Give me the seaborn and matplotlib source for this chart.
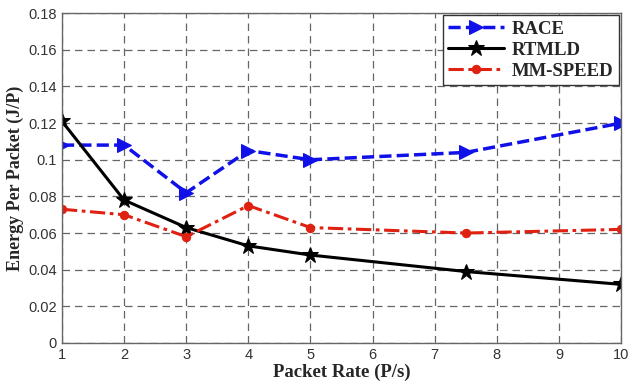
import numpy as np
import pandas as pd
import matplotlib
matplotlib.use("Agg")
import matplotlib.pyplot as plt
import seaborn as sns

packet_rate = [1, 2, 3, 4, 5, 7.5, 10]
race = [0.108, 0.108, 0.082, 0.105, 0.100, 0.104, 0.120]
rtmld = [0.121, 0.078, 0.063, 0.053, 0.048, 0.039, 0.032]
mm_speed = [0.073, 0.070, 0.058, 0.075, 0.063, 0.060, 0.062]
x_ticks = [1, 2, 3, 4, 5, 6, 7, 8, 9, 10]
y_ticks = [0, 0.02, 0.04, 0.06, 0.08, 0.1, 0.12, 0.14, 0.16, 0.18]
y_labels = ["0", "0.02", "0.04", "0.06", "0.08", "0.1", "0.12", "0.14", "0.16", "0.18"]

sns.set_style("white")
plt.rcParams['font.family'] = ['Liberation Sans', 'DejaVu Sans']

fig = plt.figure(figsize=(6.28, 3.87), dpi=100)
ax = fig.add_axes([0.0987, 0.1137, 0.8903, 0.8523])

df_race = pd.DataFrame({"x": packet_rate, "y": race})
df_rtmld = pd.DataFrame({"x": packet_rate, "y": rtmld})
df_mm = pd.DataFrame({"x": packet_rate, "y": mm_speed})

sns.lineplot(data=df_race, x="x", y="y", ax=ax, color="#1010e8", linestyle=(0, (3.5, 1.5)),
             linewidth=2.5, marker=">", markersize=10, markeredgecolor="#1010e8", label="RACE")
sns.lineplot(data=df_rtmld, x="x", y="y", ax=ax, color="black", linestyle="-",
             linewidth=2.2, marker="*", markersize=12, markeredgecolor="black", label="RTMLD")
sns.lineplot(data=df_mm, x="x", y="y", ax=ax, color="#e02010", linestyle=(0, (5, 1.5, 1.2, 1.5)),
             linewidth=2.2, marker="o", markersize=6, markeredgecolor="#e02010", label="MM-SPEED")

ax.set_xlim(1, 10)
ax.set_ylim(0, 0.18)
ax.set_xticks(x_ticks)
ax.set_yticks(y_ticks)
ax.set_yticklabels(y_labels)
ax.tick_params(direction="in", length=4, labelsize=10.5, colors="#444444", labelcolor="#333333")
ax.grid(True, color="#666666", linestyle=(0, (6, 4)), linewidth=0.9)
for s in ax.spines.values():
    s.set_color("#666666")
    s.set_linewidth(1.0)

ax.set_xlabel("Packet Rate (P/s)", fontfamily="Liberation Serif", fontweight="bold", fontsize=13.5, labelpad=1)
ax.set_ylabel("Energy Per Packet (J/P)", fontfamily="Liberation Serif", fontweight="bold", fontsize=13, labelpad=3)

leg = ax.legend(loc="upper right", prop={"family": "Liberation Serif", "weight": "bold", "size": 13.5},
                frameon=True, fancybox=False, handlelength=3.0, borderaxespad=0.1,
                labelspacing=0.2, borderpad=0.3, handletextpad=0.4)
leg.get_frame().set_edgecolor("#333333")
leg.get_frame().set_linewidth(1.0)
leg.get_frame().set_alpha(1)

fig.savefig("out.png", dpi=100)
